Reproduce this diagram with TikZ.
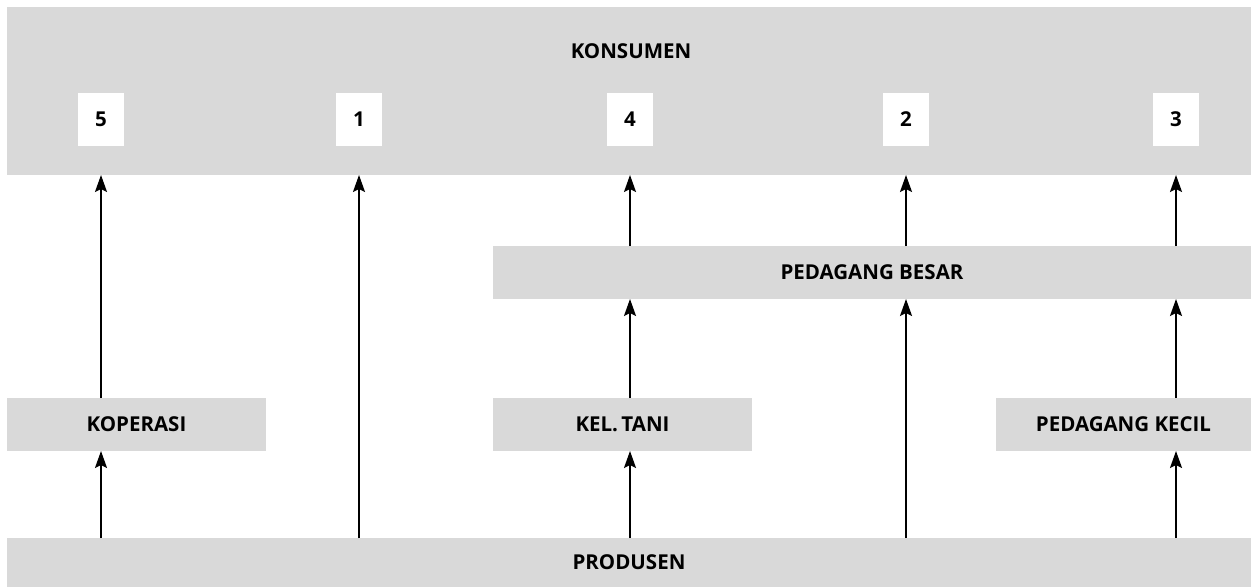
\documentclass[tikz,border=0pt]{standalone}
\usepackage{fontspec}
\setmainfont{Open Sans}
\usetikzlibrary{arrows.meta,positioning}
\definecolor{boxgray}{HTML}{D9D9D9}

\begin{document}
\begin{tikzpicture}[x=1pt, y=-1pt,
  blk/.style={fill=boxgray, anchor=north west, inner sep=0pt, outer sep=0pt,
    align=center, font=\bfseries\fontsize{20.5}{24}\selectfont},
  num/.style={fill=white, minimum width=46pt, minimum height=53pt, inner sep=0pt,
    font=\bfseries\fontsize{20.5}{24}\selectfont},
  arr/.style={-{Stealth[length=17pt,width=12pt,inset=3pt]}, line width=2pt}
]
  \useasboundingbox (0,0) rectangle (1251,587);

  % top and bottom bands
  \node[blk, minimum width=1244pt, minimum height=168pt] (konsumen) at (7,7) {};
  \node[font=\bfseries\fontsize{20.5}{24}\selectfont] (kontitle) at (631,51) {KONSUMEN};
  \node[blk, minimum width=1244pt, minimum height=49pt] (produsen) at (7,538) {PRODUSEN};

  % channel numbers
  \node[num] (n5) at (101,119.5) {5};
  \node[num] (n1) at (359,119.5) {1};
  \node[num] (n4) at (630,119.5) {4};
  \node[num] (n2) at (906,119.5) {2};
  \node[num] (n3) at (1176,119.5) {3};

  % middlemen
  \node[blk, minimum width=758pt, minimum height=53pt] (besar) at (493,246) {PEDAGANG BESAR};
  \node[blk, minimum width=259pt, minimum height=53pt] (koperasi) at (7,398) {KOPERASI};
  \node[blk, minimum width=259pt, minimum height=53pt] (tani) at (493,398) {KEL.\,TANI};
  \node[blk, minimum width=255pt, minimum height=53pt] (kecil) at (996,398) {PEDAGANG KECIL};

  % into the consumer band
  \draw[arr] (koperasi.north -| n5) -- (konsumen.south -| n5);
  \draw[arr] (produsen.north -| n1) -- (konsumen.south -| n1);
  \foreach \n in {n4,n2,n3} { \draw[arr] (besar.north -| \n) -- (konsumen.south -| \n); }

  % into the wholesaler
  \draw[arr] (tani.north -| n4) -- (besar.south -| n4);
  \draw[arr] (produsen.north -| n2) -- (besar.south -| n2);
  \draw[arr] (kecil.north -| n3) -- (besar.south -| n3);

  % out of the producer
  \draw[arr] (produsen.north -| n5) -- (koperasi.south -| n5);
  \draw[arr] (produsen.north -| n4) -- (tani.south -| n4);
  \draw[arr] (produsen.north -| n3) -- (kecil.south -| n3);
\end{tikzpicture}
\end{document}
